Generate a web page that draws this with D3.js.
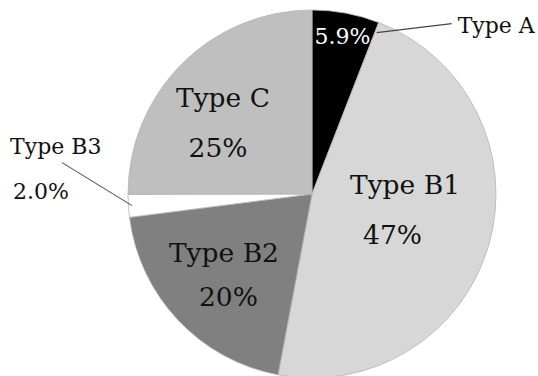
<!DOCTYPE html>
<html>
<head>
<meta charset="utf-8">
<script src="https://cdn.jsdelivr.net/npm/d3@7"></script>
<style>
  html, body { margin: 0; padding: 0; background: #fff; }
  svg { display: block; }
  text { font-family: "DejaVu Serif", "Liberation Serif", serif; }
</style>
</head>
<body>
<svg id="chart" width="538" height="376"></svg>
<script>
// Share of each type, clockwise from 12 o'clock
const categories = ["Type A", "Type B1", "Type B2", "Type B3", "Type C"];
const values = [5.9, 47, 20, 2.0, 25];
const valueLabels = ["5.9%", "47%", "20%", "2.0%", "25%"];

const fills = ["#000000", "#d7d7d7", "#808080", "#ffffff", "#bfbfbf"];

const cx = 312, cy = 194, radius = 184;

const svg = d3.select("#chart");
const g = svg.append("g").attr("transform", `translate(${cx},${cy})`);

const pie = d3.pie().sort(null).value(d => d.value);
const data = categories.map((c, i) => ({ name: c, value: values[i], label: valueLabels[i], fill: fills[i] }));
const arcs = pie(data);

const arc = d3.arc().innerRadius(0).outerRadius(radius);

g.selectAll("path.slice")
  .data(arcs)
  .join("path")
  .attr("class", "slice")
  .attr("d", arc)
  .attr("fill", d => d.data.fill)
  .attr("stroke", "#b4b4b4")
  .attr("stroke-width", 0.8);

const bigFont = 26.5, smallFont = 22;
const ink = "#111";

// Inside labels: name and value stacked around a point on the slice bisector
const layout = {
  "Type B1": { r: 0.52, dx: 1,    dy: -26,  vdx: -12.5, gap: 50 },
  "Type B2": { r: 0.64, dx: -2.4, dy: -12.8, vdx: 4.5,  gap: 44 },
  "Type C":  { r: 0.64, dx: -5.7, dy: -3.7, vdx: -5,    gap: 50 }
};

const polar = (angle, r) => [r * Math.sin(angle), -r * Math.cos(angle)];
const midAngle = a => (a.startAngle + a.endAngle) / 2;

arcs.forEach(a => {
  const L = layout[a.data.name];
  if (!L) return;
  const [x, y] = polar(midAngle(a), radius * L.r);
  g.append("text")
    .attr("x", x + L.dx).attr("y", y + L.dy)
    .attr("text-anchor", "middle")
    .attr("font-size", bigFont).attr("fill", ink)
    .text(a.data.name);
  g.append("text")
    .attr("x", x + L.dx + L.vdx).attr("y", y + L.dy + L.gap)
    .attr("text-anchor", "middle")
    .attr("font-size", bigFont).attr("fill", ink)
    .text(a.data.label);
});

// Type A: value in white inside the black wedge, name outside with a leader
{
  const a = arcs[0];
  const [vx, vy] = polar(midAngle(a), radius * 0.84);
  g.append("text")
    .attr("x", vx + 2).attr("y", vy + 2)
    .attr("text-anchor", "middle")
    .attr("font-size", smallFont).attr("fill", "#fff")
    .text(a.data.label);
  const [sx, sy] = polar(a.endAngle + 0.01, radius * 0.945);
  g.append("line")
    .attr("x1", sx).attr("y1", sy)
    .attr("x2", sx + 75).attr("y2", sy - 9)
    .attr("stroke", "#444").attr("stroke-width", 1.1);
  g.append("text")
    .attr("x", sx + 81).attr("y", sy)
    .attr("font-size", smallFont).attr("fill", ink)
    .text(a.data.name);
}

// Type B3: name and value outside on the left, leader into the thin wedge
{
  const a = arcs[3];
  const [sx, sy] = polar(midAngle(a), radius * 0.98);
  const ex = sx - 70, ey = sy - 43;
  g.append("line")
    .attr("x1", sx).attr("y1", sy)
    .attr("x2", ex).attr("y2", ey)
    .attr("stroke", "#555").attr("stroke-width", 1.1);
  g.append("text")
    .attr("x", ex - 52).attr("y", ey - 9)
    .attr("font-size", smallFont).attr("fill", ink)
    .text(a.data.name);
  g.append("text")
    .attr("x", ex - 49).attr("y", ey + 36)
    .attr("font-size", smallFont).attr("fill", ink)
    .text(a.data.label);
}
</script>
</body>
</html>
